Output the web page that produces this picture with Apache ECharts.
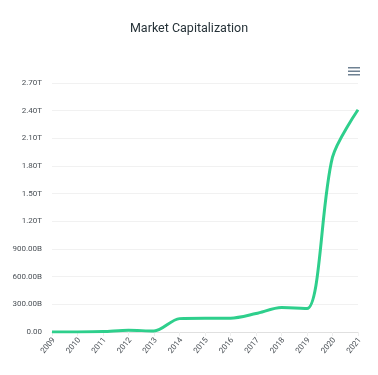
<!DOCTYPE html>
<html><head><meta charset="utf-8">
<script src="https://cdn.jsdelivr.net/npm/echarts@6/dist/echarts.min.js"></script>
<style>html,body{margin:0;padding:0;background:#fff}#c{width:378px;height:375px}</style>
</head><body><div id="c"></div>
<script>
const years = ['2009','2010','2011','2012','2013','2014','2015','2016','2017','2018','2019','2020','2021'];
const marketCapB = [0.5, 1, 5, 20, 10, 145, 150, 150, 200, 265, 255, 1895, 2410];
const yMax = 2700, yStep = 300;
function fmt(v){ if(v===0) return '0.00'; if(v>=1000) return (v/1000).toFixed(2)+'T'; return v.toFixed(2)+'B'; }
const chart = echarts.init(document.getElementById('c'), null, {renderer:'canvas'});
chart.setOption({
  animation:false,
  title:{text:'Market Capitalization', left:'center', top:17, textStyle:{fontFamily:'Roboto', fontSize:12.5, fontWeight:'normal', color:'#263238'}},
  grid:{left:52, right:20, top:83, bottom:43, containLabel:false},
  xAxis:{type:'category', data:years, boundaryGap:false,
    axisLine:{lineStyle:{color:'#e0e0e0'}},
    axisTick:{show:true, length:4, lineStyle:{color:'#eeeeee'}},
    axisLabel:{rotate:50, fontSize:8, fontFamily:'Roboto', color:'#4a5056', margin:9, padding:[0,-3,0,0]}},
  yAxis:{type:'value', min:0, max:yMax, interval:yStep,
    axisLine:{show:false}, axisTick:{show:false},
    splitLine:{lineStyle:{color:'#f1f1f1'}},
    axisLabel:{fontSize:8, fontFamily:'Roboto', color:'#4a5056', formatter:fmt, margin:10}},
  series:[{type:'line', data:marketCapB, smooth:0.3, symbol:'none',
    lineStyle:{width:3, color:'#2ecf8c'}}],
  graphic:[
    {type:'rect', shape:{x:348,y:67,width:12,height:1.5}, style:{fill:'#6e8192'}},
    {type:'rect', shape:{x:348,y:70.5,width:12,height:1.5}, style:{fill:'#6e8192'}},
    {type:'rect', shape:{x:348,y:74,width:12,height:1.5}, style:{fill:'#6e8192'}}
  ]
});
</script></body></html>
